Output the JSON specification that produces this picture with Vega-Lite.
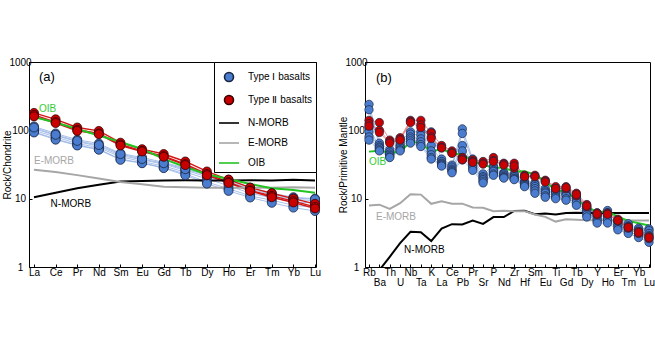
{
  "$schema": "https://vega.github.io/schema/vega-lite/v6.json",
  "padding": {"left": 2, "top": 56, "right": 5, "bottom": 5},
  "spacing": 16,
  "datasets": {
    "chon": [
      {"e":"La","s":"A1","g":"Type Ⅰ basalts","v":114},{"e":"Ce","s":"A1","g":"Type Ⅰ basalts","v":90},{"e":"Pr","s":"A1","g":"Type Ⅰ basalts","v":73},{"e":"Nd","s":"A1","g":"Type Ⅰ basalts","v":64},{"e":"Sm","s":"A1","g":"Type Ⅰ basalts","v":46},{"e":"Eu","s":"A1","g":"Type Ⅰ basalts","v":40},{"e":"Gd","s":"A1","g":"Type Ⅰ basalts","v":34},{"e":"Tb","s":"A1","g":"Type Ⅰ basalts","v":28},{"e":"Dy","s":"A1","g":"Type Ⅰ basalts","v":23},{"e":"Ho","s":"A1","g":"Type Ⅰ basalts","v":19},{"e":"Er","s":"A1","g":"Type Ⅰ basalts","v":14.5},{"e":"Tm","s":"A1","g":"Type Ⅰ basalts","v":12},{"e":"Yb","s":"A1","g":"Type Ⅰ basalts","v":10.5},{"e":"Lu","s":"A1","g":"Type Ⅰ basalts","v":10},
      {"e":"La","s":"A2","g":"Type Ⅰ basalts","v":106},{"e":"Ce","s":"A2","g":"Type Ⅰ basalts","v":84},{"e":"Pr","s":"A2","g":"Type Ⅰ basalts","v":68},{"e":"Nd","s":"A2","g":"Type Ⅰ basalts","v":59},{"e":"Sm","s":"A2","g":"Type Ⅰ basalts","v":43},{"e":"Eu","s":"A2","g":"Type Ⅰ basalts","v":37},{"e":"Gd","s":"A2","g":"Type Ⅰ basalts","v":32},{"e":"Tb","s":"A2","g":"Type Ⅰ basalts","v":26},{"e":"Dy","s":"A2","g":"Type Ⅰ basalts","v":21},{"e":"Ho","s":"A2","g":"Type Ⅰ basalts","v":17},{"e":"Er","s":"A2","g":"Type Ⅰ basalts","v":13},{"e":"Tm","s":"A2","g":"Type Ⅰ basalts","v":11},{"e":"Yb","s":"A2","g":"Type Ⅰ basalts","v":9.8},{"e":"Lu","s":"A2","g":"Type Ⅰ basalts","v":9.3},
      {"e":"La","s":"A3","g":"Type Ⅰ basalts","v":100},{"e":"Ce","s":"A3","g":"Type Ⅰ basalts","v":80},{"e":"Pr","s":"A3","g":"Type Ⅰ basalts","v":64},{"e":"Nd","s":"A3","g":"Type Ⅰ basalts","v":56},{"e":"Sm","s":"A3","g":"Type Ⅰ basalts","v":41},{"e":"Eu","s":"A3","g":"Type Ⅰ basalts","v":35},{"e":"Gd","s":"A3","g":"Type Ⅰ basalts","v":30},{"e":"Tb","s":"A3","g":"Type Ⅰ basalts","v":24.5},{"e":"Dy","s":"A3","g":"Type Ⅰ basalts","v":19.5},{"e":"Ho","s":"A3","g":"Type Ⅰ basalts","v":15.5},{"e":"Er","s":"A3","g":"Type Ⅰ basalts","v":12},{"e":"Tm","s":"A3","g":"Type Ⅰ basalts","v":10.3},{"e":"Yb","s":"A3","g":"Type Ⅰ basalts","v":9},{"e":"Lu","s":"A3","g":"Type Ⅰ basalts","v":8.6},
      {"e":"La","s":"A4","g":"Type Ⅰ basalts","v":95},{"e":"Ce","s":"A4","g":"Type Ⅰ basalts","v":75},{"e":"Pr","s":"A4","g":"Type Ⅰ basalts","v":61},{"e":"Nd","s":"A4","g":"Type Ⅰ basalts","v":53},{"e":"Sm","s":"A4","g":"Type Ⅰ basalts","v":38},{"e":"Eu","s":"A4","g":"Type Ⅰ basalts","v":33.5},{"e":"Gd","s":"A4","g":"Type Ⅰ basalts","v":28.5},{"e":"Tb","s":"A4","g":"Type Ⅰ basalts","v":23},{"e":"Dy","s":"A4","g":"Type Ⅰ basalts","v":17.5},{"e":"Ho","s":"A4","g":"Type Ⅰ basalts","v":14},{"e":"Er","s":"A4","g":"Type Ⅰ basalts","v":11},{"e":"Tm","s":"A4","g":"Type Ⅰ basalts","v":9.5},{"e":"Yb","s":"A4","g":"Type Ⅰ basalts","v":8},{"e":"Lu","s":"A4","g":"Type Ⅰ basalts","v":7.4},
      {"e":"La","s":"A5","g":"Type Ⅰ basalts","v":93},{"e":"Ce","s":"A5","g":"Type Ⅰ basalts","v":73},{"e":"Pr","s":"A5","g":"Type Ⅰ basalts","v":60},{"e":"Nd","s":"A5","g":"Type Ⅰ basalts","v":52},{"e":"Sm","s":"A5","g":"Type Ⅰ basalts","v":37},{"e":"Eu","s":"A5","g":"Type Ⅰ basalts","v":33},{"e":"Gd","s":"A5","g":"Type Ⅰ basalts","v":28},{"e":"Tb","s":"A5","g":"Type Ⅰ basalts","v":22},{"e":"Dy","s":"A5","g":"Type Ⅰ basalts","v":16.6},{"e":"Ho","s":"A5","g":"Type Ⅰ basalts","v":13},{"e":"Er","s":"A5","g":"Type Ⅰ basalts","v":10.4},{"e":"Tm","s":"A5","g":"Type Ⅰ basalts","v":8.7},{"e":"Yb","s":"A5","g":"Type Ⅰ basalts","v":7.4},{"e":"Lu","s":"A5","g":"Type Ⅰ basalts","v":6.6},
      {"e":"La","s":"A6","g":"Type Ⅰ basalts","v":110},{"e":"Ce","s":"A6","g":"Type Ⅰ basalts","v":86},{"e":"Pr","s":"A6","g":"Type Ⅰ basalts","v":70},{"e":"Nd","s":"A6","g":"Type Ⅰ basalts","v":61},{"e":"Sm","s":"A6","g":"Type Ⅰ basalts","v":45},{"e":"Eu","s":"A6","g":"Type Ⅰ basalts","v":38},{"e":"Gd","s":"A6","g":"Type Ⅰ basalts","v":33},{"e":"Tb","s":"A6","g":"Type Ⅰ basalts","v":27},{"e":"Dy","s":"A6","g":"Type Ⅰ basalts","v":22},{"e":"Ho","s":"A6","g":"Type Ⅰ basalts","v":18},{"e":"Er","s":"A6","g":"Type Ⅰ basalts","v":13.8},{"e":"Tm","s":"A6","g":"Type Ⅰ basalts","v":11.5},{"e":"Yb","s":"A6","g":"Type Ⅰ basalts","v":10.2},{"e":"Lu","s":"A6","g":"Type Ⅰ basalts","v":9.8},
      {"e":"La","s":"B1","g":"Type Ⅱ basalts","v":180},{"e":"Ce","s":"B1","g":"Type Ⅱ basalts","v":145},{"e":"Pr","s":"B1","g":"Type Ⅱ basalts","v":110},{"e":"Nd","s":"B1","g":"Type Ⅱ basalts","v":98},{"e":"Sm","s":"B1","g":"Type Ⅱ basalts","v":66},{"e":"Eu","s":"B1","g":"Type Ⅱ basalts","v":53},{"e":"Gd","s":"B1","g":"Type Ⅱ basalts","v":45},{"e":"Tb","s":"B1","g":"Type Ⅱ basalts","v":35},{"e":"Dy","s":"B1","g":"Type Ⅱ basalts","v":25},{"e":"Ho","s":"B1","g":"Type Ⅱ basalts","v":19},{"e":"Er","s":"B1","g":"Type Ⅱ basalts","v":14.5},{"e":"Tm","s":"B1","g":"Type Ⅱ basalts","v":12},{"e":"Yb","s":"B1","g":"Type Ⅱ basalts","v":10},{"e":"Lu","s":"B1","g":"Type Ⅱ basalts","v":8.4},
      {"e":"La","s":"B2","g":"Type Ⅱ basalts","v":168},{"e":"Ce","s":"B2","g":"Type Ⅱ basalts","v":132},{"e":"Pr","s":"B2","g":"Type Ⅱ basalts","v":102},{"e":"Nd","s":"B2","g":"Type Ⅱ basalts","v":90},{"e":"Sm","s":"B2","g":"Type Ⅱ basalts","v":62},{"e":"Eu","s":"B2","g":"Type Ⅱ basalts","v":50},{"e":"Gd","s":"B2","g":"Type Ⅱ basalts","v":42},{"e":"Tb","s":"B2","g":"Type Ⅱ basalts","v":32},{"e":"Dy","s":"B2","g":"Type Ⅱ basalts","v":23},{"e":"Ho","s":"B2","g":"Type Ⅱ basalts","v":17.5},{"e":"Er","s":"B2","g":"Type Ⅱ basalts","v":13.2},{"e":"Tm","s":"B2","g":"Type Ⅱ basalts","v":11},{"e":"Yb","s":"B2","g":"Type Ⅱ basalts","v":9.2},{"e":"Lu","s":"B2","g":"Type Ⅱ basalts","v":7.6},
      {"e":"La","s":"B3","g":"Type Ⅱ basalts","v":160},{"e":"Ce","s":"B3","g":"Type Ⅱ basalts","v":128},{"e":"Pr","s":"B3","g":"Type Ⅱ basalts","v":98},{"e":"Nd","s":"B3","g":"Type Ⅱ basalts","v":88},{"e":"Sm","s":"B3","g":"Type Ⅱ basalts","v":60},{"e":"Eu","s":"B3","g":"Type Ⅱ basalts","v":49},{"e":"Gd","s":"B3","g":"Type Ⅱ basalts","v":41},{"e":"Tb","s":"B3","g":"Type Ⅱ basalts","v":31},{"e":"Dy","s":"B3","g":"Type Ⅱ basalts","v":22},{"e":"Ho","s":"B3","g":"Type Ⅱ basalts","v":17},{"e":"Er","s":"B3","g":"Type Ⅱ basalts","v":13},{"e":"Tm","s":"B3","g":"Type Ⅱ basalts","v":10.5},{"e":"Yb","s":"B3","g":"Type Ⅱ basalts","v":8.8},{"e":"Lu","s":"B3","g":"Type Ⅱ basalts","v":7.2},
      {"e":"La","s":"N","g":"N-MORB","v":10.5},{"e":"Ce","s":"N","g":"N-MORB","v":12.2},{"e":"Pr","s":"N","g":"N-MORB","v":14.2},{"e":"Nd","s":"N","g":"N-MORB","v":16},{"e":"Sm","s":"N","g":"N-MORB","v":17.8},{"e":"Eu","s":"N","g":"N-MORB","v":18.1},{"e":"Gd","s":"N","g":"N-MORB","v":18.5},{"e":"Tb","s":"N","g":"N-MORB","v":18.6},{"e":"Dy","s":"N","g":"N-MORB","v":18.5},{"e":"Ho","s":"N","g":"N-MORB","v":18.5},{"e":"Er","s":"N","g":"N-MORB","v":18.6},{"e":"Tm","s":"N","g":"N-MORB","v":18.5},{"e":"Yb","s":"N","g":"N-MORB","v":18.9},{"e":"Lu","s":"N","g":"N-MORB","v":18.5},
      {"e":"La","s":"E","g":"E-MORB","v":26.6},{"e":"Ce","s":"E","g":"E-MORB","v":24.5},{"e":"Pr","s":"E","g":"E-MORB","v":22.1},{"e":"Nd","s":"E","g":"E-MORB","v":19.7},{"e":"Sm","s":"E","g":"E-MORB","v":17.6},{"e":"Eu","s":"E","g":"E-MORB","v":16.2},{"e":"Gd","s":"E","g":"E-MORB","v":14.9},{"e":"Tb","s":"E","g":"E-MORB","v":14.7},{"e":"Dy","s":"E","g":"E-MORB","v":14.4},{"e":"Ho","s":"E","g":"E-MORB","v":14.5},{"e":"Er","s":"E","g":"E-MORB","v":14.4},{"e":"Tm","s":"E","g":"E-MORB","v":14.4},{"e":"Yb","s":"E","g":"E-MORB","v":14.7},{"e":"Lu","s":"E","g":"E-MORB","v":14.4},
      {"e":"La","s":"O","g":"OIB","v":156},{"e":"Ce","s":"O","g":"OIB","v":130.5},{"e":"Pr","s":"O","g":"OIB","v":104.5},{"e":"Nd","s":"O","g":"OIB","v":84.2},{"e":"Sm","s":"O","g":"OIB","v":67.6},{"e":"Eu","s":"O","g":"OIB","v":53.3},{"e":"Gd","s":"O","g":"OIB","v":38.3},{"e":"Tb","s":"O","g":"OIB","v":29.1},{"e":"Dy","s":"O","g":"OIB","v":22.8},{"e":"Ho","s":"O","g":"OIB","v":19.4},{"e":"Er","s":"O","g":"OIB","v":16.4},{"e":"Tm","s":"O","g":"OIB","v":14.2},{"e":"Yb","s":"O","g":"OIB","v":13.4},{"e":"Lu","s":"O","g":"OIB","v":12.2}
    ],
    "pm": [
      {"e":"Rb","s":"C1","g":"Type Ⅰ basalts","v":240},{"e":"Ba","s":"C1","g":"Type Ⅰ basalts","v":65},{"e":"Th","s":"C1","g":"Type Ⅰ basalts","v":52},{"e":"U","s":"C1","g":"Type Ⅰ basalts","v":68},{"e":"Nb","s":"C1","g":"Type Ⅰ basalts","v":95},{"e":"Ta","s":"C1","g":"Type Ⅰ basalts","v":95},{"e":"K","s":"C1","g":"Type Ⅰ basalts","v":95},{"e":"La","s":"C1","g":"Type Ⅰ basalts","v":38},{"e":"Ce","s":"C1","g":"Type Ⅰ basalts","v":31},{"e":"Pb","s":"C1","g":"Type Ⅰ basalts","v":105},{"e":"Pr","s":"C1","g":"Type Ⅰ basalts","v":38},{"e":"Sr","s":"C1","g":"Type Ⅰ basalts","v":23},{"e":"P","s":"C1","g":"Type Ⅰ basalts","v":30},{"e":"Nd","s":"C1","g":"Type Ⅰ basalts","v":24},{"e":"Zr","s":"C1","g":"Type Ⅰ basalts","v":23},{"e":"Hf","s":"C1","g":"Type Ⅰ basalts","v":18},{"e":"Sm","s":"C1","g":"Type Ⅰ basalts","v":17},{"e":"Eu","s":"C1","g":"Type Ⅰ basalts","v":14},{"e":"Ti","s":"C1","g":"Type Ⅰ basalts","v":13},{"e":"Gd","s":"C1","g":"Type Ⅰ basalts","v":13},{"e":"Tb","s":"C1","g":"Type Ⅰ basalts","v":11},{"e":"Dy","s":"C1","g":"Type Ⅰ basalts","v":7.4},{"e":"Y","s":"C1","g":"Type Ⅰ basalts","v":6.2},{"e":"Ho","s":"C1","g":"Type Ⅰ basalts","v":6.7},{"e":"Er","s":"C1","g":"Type Ⅰ basalts","v":4.8},{"e":"Tm","s":"C1","g":"Type Ⅰ basalts","v":4.3},{"e":"Yb","s":"C1","g":"Type Ⅰ basalts","v":3.7},{"e":"Lu","s":"C1","g":"Type Ⅰ basalts","v":3.6},
      {"e":"Rb","s":"C2","g":"Type Ⅰ basalts","v":200},{"e":"Ba","s":"C2","g":"Type Ⅰ basalts","v":60},{"e":"Th","s":"C2","g":"Type Ⅰ basalts","v":48},{"e":"U","s":"C2","g":"Type Ⅰ basalts","v":62},{"e":"Nb","s":"C2","g":"Type Ⅰ basalts","v":88},{"e":"Ta","s":"C2","g":"Type Ⅰ basalts","v":85},{"e":"K","s":"C2","g":"Type Ⅰ basalts","v":60},{"e":"La","s":"C2","g":"Type Ⅰ basalts","v":35},{"e":"Ce","s":"C2","g":"Type Ⅰ basalts","v":29},{"e":"Pb","s":"C2","g":"Type Ⅰ basalts","v":90},{"e":"Pr","s":"C2","g":"Type Ⅰ basalts","v":35},{"e":"Sr","s":"C2","g":"Type Ⅰ basalts","v":21},{"e":"P","s":"C2","g":"Type Ⅰ basalts","v":28},{"e":"Nd","s":"C2","g":"Type Ⅰ basalts","v":23},{"e":"Zr","s":"C2","g":"Type Ⅰ basalts","v":22},{"e":"Hf","s":"C2","g":"Type Ⅰ basalts","v":17},{"e":"Sm","s":"C2","g":"Type Ⅰ basalts","v":16},{"e":"Eu","s":"C2","g":"Type Ⅰ basalts","v":13},{"e":"Ti","s":"C2","g":"Type Ⅰ basalts","v":12.5},{"e":"Gd","s":"C2","g":"Type Ⅰ basalts","v":12},{"e":"Tb","s":"C2","g":"Type Ⅰ basalts","v":10.5},{"e":"Dy","s":"C2","g":"Type Ⅰ basalts","v":7},{"e":"Y","s":"C2","g":"Type Ⅰ basalts","v":5.8},{"e":"Ho","s":"C2","g":"Type Ⅰ basalts","v":6.2},{"e":"Er","s":"C2","g":"Type Ⅰ basalts","v":4.5},{"e":"Tm","s":"C2","g":"Type Ⅰ basalts","v":4},{"e":"Yb","s":"C2","g":"Type Ⅰ basalts","v":3.5},{"e":"Lu","s":"C2","g":"Type Ⅰ basalts","v":3.4},
      {"e":"Rb","s":"C3","g":"Type Ⅰ basalts","v":110},{"e":"Ba","s":"C3","g":"Type Ⅰ basalts","v":57},{"e":"Th","s":"C3","g":"Type Ⅰ basalts","v":45},{"e":"U","s":"C3","g":"Type Ⅰ basalts","v":58},{"e":"Nb","s":"C3","g":"Type Ⅰ basalts","v":80},{"e":"Ta","s":"C3","g":"Type Ⅰ basalts","v":75},{"e":"K","s":"C3","g":"Type Ⅰ basalts","v":50},{"e":"La","s":"C3","g":"Type Ⅰ basalts","v":33},{"e":"Ce","s":"C3","g":"Type Ⅰ basalts","v":27},{"e":"Pb","s":"C3","g":"Type Ⅰ basalts","v":60},{"e":"Pr","s":"C3","g":"Type Ⅰ basalts","v":32},{"e":"Sr","s":"C3","g":"Type Ⅰ basalts","v":20},{"e":"P","s":"C3","g":"Type Ⅰ basalts","v":26},{"e":"Nd","s":"C3","g":"Type Ⅰ basalts","v":22},{"e":"Zr","s":"C3","g":"Type Ⅰ basalts","v":21},{"e":"Hf","s":"C3","g":"Type Ⅰ basalts","v":16.5},{"e":"Sm","s":"C3","g":"Type Ⅰ basalts","v":15},{"e":"Eu","s":"C3","g":"Type Ⅰ basalts","v":12.5},{"e":"Ti","s":"C3","g":"Type Ⅰ basalts","v":12},{"e":"Gd","s":"C3","g":"Type Ⅰ basalts","v":11.5},{"e":"Tb","s":"C3","g":"Type Ⅰ basalts","v":10},{"e":"Dy","s":"C3","g":"Type Ⅰ basalts","v":6.6},{"e":"Y","s":"C3","g":"Type Ⅰ basalts","v":5.4},{"e":"Ho","s":"C3","g":"Type Ⅰ basalts","v":5.7},{"e":"Er","s":"C3","g":"Type Ⅰ basalts","v":4.2},{"e":"Tm","s":"C3","g":"Type Ⅰ basalts","v":3.8},{"e":"Yb","s":"C3","g":"Type Ⅰ basalts","v":3.3},{"e":"Lu","s":"C3","g":"Type Ⅰ basalts","v":3.1},
      {"e":"Rb","s":"C4","g":"Type Ⅰ basalts","v":95},{"e":"Ba","s":"C4","g":"Type Ⅰ basalts","v":55},{"e":"Th","s":"C4","g":"Type Ⅰ basalts","v":43},{"e":"U","s":"C4","g":"Type Ⅰ basalts","v":55},{"e":"Nb","s":"C4","g":"Type Ⅰ basalts","v":75},{"e":"Ta","s":"C4","g":"Type Ⅰ basalts","v":68},{"e":"K","s":"C4","g":"Type Ⅰ basalts","v":44},{"e":"La","s":"C4","g":"Type Ⅰ basalts","v":32},{"e":"Ce","s":"C4","g":"Type Ⅰ basalts","v":26},{"e":"Pb","s":"C4","g":"Type Ⅰ basalts","v":50},{"e":"Pr","s":"C4","g":"Type Ⅰ basalts","v":30},{"e":"Sr","s":"C4","g":"Type Ⅰ basalts","v":19},{"e":"P","s":"C4","g":"Type Ⅰ basalts","v":25},{"e":"Nd","s":"C4","g":"Type Ⅰ basalts","v":21},{"e":"Zr","s":"C4","g":"Type Ⅰ basalts","v":20},{"e":"Hf","s":"C4","g":"Type Ⅰ basalts","v":16},{"e":"Sm","s":"C4","g":"Type Ⅰ basalts","v":14},{"e":"Eu","s":"C4","g":"Type Ⅰ basalts","v":12},{"e":"Ti","s":"C4","g":"Type Ⅰ basalts","v":11},{"e":"Gd","s":"C4","g":"Type Ⅰ basalts","v":11},{"e":"Tb","s":"C4","g":"Type Ⅰ basalts","v":9.5},{"e":"Dy","s":"C4","g":"Type Ⅰ basalts","v":6.2},{"e":"Y","s":"C4","g":"Type Ⅰ basalts","v":5},{"e":"Ho","s":"C4","g":"Type Ⅰ basalts","v":5.2},{"e":"Er","s":"C4","g":"Type Ⅰ basalts","v":4},{"e":"Tm","s":"C4","g":"Type Ⅰ basalts","v":3.6},{"e":"Yb","s":"C4","g":"Type Ⅰ basalts","v":3.1},{"e":"Lu","s":"C4","g":"Type Ⅰ basalts","v":2.9},
      {"e":"Rb","s":"C5","g":"Type Ⅰ basalts","v":80},{"e":"Ba","s":"C5","g":"Type Ⅰ basalts","v":52},{"e":"Th","s":"C5","g":"Type Ⅰ basalts","v":41},{"e":"U","s":"C5","g":"Type Ⅰ basalts","v":52},{"e":"Nb","s":"C5","g":"Type Ⅰ basalts","v":70},{"e":"Ta","s":"C5","g":"Type Ⅰ basalts","v":62},{"e":"K","s":"C5","g":"Type Ⅰ basalts","v":40},{"e":"La","s":"C5","g":"Type Ⅰ basalts","v":31},{"e":"Ce","s":"C5","g":"Type Ⅰ basalts","v":25},{"e":"Pb","s":"C5","g":"Type Ⅰ basalts","v":40},{"e":"Pr","s":"C5","g":"Type Ⅰ basalts","v":28},{"e":"Sr","s":"C5","g":"Type Ⅰ basalts","v":18},{"e":"P","s":"C5","g":"Type Ⅰ basalts","v":23},{"e":"Nd","s":"C5","g":"Type Ⅰ basalts","v":20.5},{"e":"Zr","s":"C5","g":"Type Ⅰ basalts","v":19.5},{"e":"Hf","s":"C5","g":"Type Ⅰ basalts","v":15.5},{"e":"Sm","s":"C5","g":"Type Ⅰ basalts","v":13},{"e":"Eu","s":"C5","g":"Type Ⅰ basalts","v":11},{"e":"Ti","s":"C5","g":"Type Ⅰ basalts","v":10.5},{"e":"Gd","s":"C5","g":"Type Ⅰ basalts","v":10},{"e":"Tb","s":"C5","g":"Type Ⅰ basalts","v":8.8},{"e":"Dy","s":"C5","g":"Type Ⅰ basalts","v":5.8},{"e":"Y","s":"C5","g":"Type Ⅰ basalts","v":4.7},{"e":"Ho","s":"C5","g":"Type Ⅰ basalts","v":4.8},{"e":"Er","s":"C5","g":"Type Ⅰ basalts","v":3.7},{"e":"Tm","s":"C5","g":"Type Ⅰ basalts","v":3.3},{"e":"Yb","s":"C5","g":"Type Ⅰ basalts","v":2.9},{"e":"Lu","s":"C5","g":"Type Ⅰ basalts","v":2.6},
      {"e":"Rb","s":"C6","g":"Type Ⅰ basalts","v":72},{"e":"Ba","s":"C6","g":"Type Ⅰ basalts","v":50},{"e":"Th","s":"C6","g":"Type Ⅰ basalts","v":40},{"e":"U","s":"C6","g":"Type Ⅰ basalts","v":50},{"e":"Nb","s":"C6","g":"Type Ⅰ basalts","v":65},{"e":"Ta","s":"C6","g":"Type Ⅰ basalts","v":58},{"e":"K","s":"C6","g":"Type Ⅰ basalts","v":38},{"e":"La","s":"C6","g":"Type Ⅰ basalts","v":30},{"e":"Ce","s":"C6","g":"Type Ⅰ basalts","v":24},{"e":"Pb","s":"C6","g":"Type Ⅰ basalts","v":37},{"e":"Pr","s":"C6","g":"Type Ⅰ basalts","v":26},{"e":"Sr","s":"C6","g":"Type Ⅰ basalts","v":17},{"e":"P","s":"C6","g":"Type Ⅰ basalts","v":22},{"e":"Nd","s":"C6","g":"Type Ⅰ basalts","v":20},{"e":"Zr","s":"C6","g":"Type Ⅰ basalts","v":19},{"e":"Hf","s":"C6","g":"Type Ⅰ basalts","v":15},{"e":"Sm","s":"C6","g":"Type Ⅰ basalts","v":12},{"e":"Eu","s":"C6","g":"Type Ⅰ basalts","v":10.5},{"e":"Ti","s":"C6","g":"Type Ⅰ basalts","v":10},{"e":"Gd","s":"C6","g":"Type Ⅰ basalts","v":9.5},{"e":"Tb","s":"C6","g":"Type Ⅰ basalts","v":8},{"e":"Dy","s":"C6","g":"Type Ⅰ basalts","v":5.4},{"e":"Y","s":"C6","g":"Type Ⅰ basalts","v":4.4},{"e":"Ho","s":"C6","g":"Type Ⅰ basalts","v":4.4},{"e":"Er","s":"C6","g":"Type Ⅰ basalts","v":3.5},{"e":"Tm","s":"C6","g":"Type Ⅰ basalts","v":3.1},{"e":"Yb","s":"C6","g":"Type Ⅰ basalts","v":2.7},{"e":"Lu","s":"C6","g":"Type Ⅰ basalts","v":2.3},
      {"e":"Rb","s":"D1","g":"Type Ⅱ basalts","v":140},{"e":"Ba","s":"D1","g":"Type Ⅱ basalts","v":130},{"e":"Th","s":"D1","g":"Type Ⅱ basalts","v":72},{"e":"U","s":"D1","g":"Type Ⅱ basalts","v":78},{"e":"Nb","s":"D1","g":"Type Ⅱ basalts","v":140},{"e":"Ta","s":"D1","g":"Type Ⅱ basalts","v":140},{"e":"K","s":"D1","g":"Type Ⅱ basalts","v":92},{"e":"La","s":"D1","g":"Type Ⅱ basalts","v":60},{"e":"Ce","s":"D1","g":"Type Ⅱ basalts","v":50},{"e":"Pb","s":"D1","g":"Type Ⅱ basalts","v":40},{"e":"Pr","s":"D1","g":"Type Ⅱ basalts","v":37},{"e":"Sr","s":"D1","g":"Type Ⅱ basalts","v":35},{"e":"P","s":"D1","g":"Type Ⅱ basalts","v":40},{"e":"Nd","s":"D1","g":"Type Ⅱ basalts","v":33},{"e":"Zr","s":"D1","g":"Type Ⅱ basalts","v":33},{"e":"Hf","s":"D1","g":"Type Ⅱ basalts","v":22},{"e":"Sm","s":"D1","g":"Type Ⅱ basalts","v":22},{"e":"Eu","s":"D1","g":"Type Ⅱ basalts","v":18.6},{"e":"Ti","s":"D1","g":"Type Ⅱ basalts","v":15},{"e":"Gd","s":"D1","g":"Type Ⅱ basalts","v":15},{"e":"Tb","s":"D1","g":"Type Ⅱ basalts","v":12},{"e":"Dy","s":"D1","g":"Type Ⅱ basalts","v":8.2},{"e":"Y","s":"D1","g":"Type Ⅱ basalts","v":6.2},{"e":"Ho","s":"D1","g":"Type Ⅱ basalts","v":6.2},{"e":"Er","s":"D1","g":"Type Ⅱ basalts","v":5},{"e":"Tm","s":"D1","g":"Type Ⅱ basalts","v":3.9},{"e":"Yb","s":"D1","g":"Type Ⅱ basalts","v":3.3},{"e":"Lu","s":"D1","g":"Type Ⅱ basalts","v":2.8},
      {"e":"Rb","s":"D2","g":"Type Ⅱ basalts","v":125},{"e":"Ba","s":"D2","g":"Type Ⅱ basalts","v":100},{"e":"Th","s":"D2","g":"Type Ⅱ basalts","v":68},{"e":"U","s":"D2","g":"Type Ⅱ basalts","v":74},{"e":"Nb","s":"D2","g":"Type Ⅱ basalts","v":135},{"e":"Ta","s":"D2","g":"Type Ⅱ basalts","v":120},{"e":"K","s":"D2","g":"Type Ⅱ basalts","v":80},{"e":"La","s":"D2","g":"Type Ⅱ basalts","v":56},{"e":"Ce","s":"D2","g":"Type Ⅱ basalts","v":47},{"e":"Pb","s":"D2","g":"Type Ⅱ basalts","v":38},{"e":"Pr","s":"D2","g":"Type Ⅱ basalts","v":35},{"e":"Sr","s":"D2","g":"Type Ⅱ basalts","v":33},{"e":"P","s":"D2","g":"Type Ⅱ basalts","v":36},{"e":"Nd","s":"D2","g":"Type Ⅱ basalts","v":32},{"e":"Zr","s":"D2","g":"Type Ⅱ basalts","v":28},{"e":"Hf","s":"D2","g":"Type Ⅱ basalts","v":21},{"e":"Sm","s":"D2","g":"Type Ⅱ basalts","v":21},{"e":"Eu","s":"D2","g":"Type Ⅱ basalts","v":18},{"e":"Ti","s":"D2","g":"Type Ⅱ basalts","v":14},{"e":"Gd","s":"D2","g":"Type Ⅱ basalts","v":14},{"e":"Tb","s":"D2","g":"Type Ⅱ basalts","v":11},{"e":"Dy","s":"D2","g":"Type Ⅱ basalts","v":7.6},{"e":"Y","s":"D2","g":"Type Ⅱ basalts","v":5.8},{"e":"Ho","s":"D2","g":"Type Ⅱ basalts","v":6},{"e":"Er","s":"D2","g":"Type Ⅱ basalts","v":4.7},{"e":"Tm","s":"D2","g":"Type Ⅱ basalts","v":3.7},{"e":"Yb","s":"D2","g":"Type Ⅱ basalts","v":3.1},{"e":"Lu","s":"D2","g":"Type Ⅱ basalts","v":2.6},
      {"e":"Rb","s":"D3","g":"Type Ⅱ basalts","v":115},{"e":"Ba","s":"D3","g":"Type Ⅱ basalts","v":93},{"e":"Th","s":"D3","g":"Type Ⅱ basalts","v":65},{"e":"U","s":"D3","g":"Type Ⅱ basalts","v":72},{"e":"Nb","s":"D3","g":"Type Ⅱ basalts","v":130},{"e":"Ta","s":"D3","g":"Type Ⅱ basalts","v":110},{"e":"K","s":"D3","g":"Type Ⅱ basalts","v":76},{"e":"La","s":"D3","g":"Type Ⅱ basalts","v":55},{"e":"Ce","s":"D3","g":"Type Ⅱ basalts","v":46},{"e":"Pb","s":"D3","g":"Type Ⅱ basalts","v":37},{"e":"Pr","s":"D3","g":"Type Ⅱ basalts","v":34},{"e":"Sr","s":"D3","g":"Type Ⅱ basalts","v":32},{"e":"P","s":"D3","g":"Type Ⅱ basalts","v":35},{"e":"Nd","s":"D3","g":"Type Ⅱ basalts","v":31},{"e":"Zr","s":"D3","g":"Type Ⅱ basalts","v":30},{"e":"Hf","s":"D3","g":"Type Ⅱ basalts","v":21},{"e":"Sm","s":"D3","g":"Type Ⅱ basalts","v":21},{"e":"Eu","s":"D3","g":"Type Ⅱ basalts","v":17.5},{"e":"Ti","s":"D3","g":"Type Ⅱ basalts","v":14},{"e":"Gd","s":"D3","g":"Type Ⅱ basalts","v":14.5},{"e":"Tb","s":"D3","g":"Type Ⅱ basalts","v":11.5},{"e":"Dy","s":"D3","g":"Type Ⅱ basalts","v":7.8},{"e":"Y","s":"D3","g":"Type Ⅱ basalts","v":6},{"e":"Ho","s":"D3","g":"Type Ⅱ basalts","v":5.9},{"e":"Er","s":"D3","g":"Type Ⅱ basalts","v":4.8},{"e":"Tm","s":"D3","g":"Type Ⅱ basalts","v":3.8},{"e":"Yb","s":"D3","g":"Type Ⅱ basalts","v":3.2},{"e":"Lu","s":"D3","g":"Type Ⅱ basalts","v":2.7},
      {"e":"Rb","s":"N","g":"N-MORB","v":0.88},{"e":"Ba","s":"N","g":"N-MORB","v":0.9},{"e":"Th","s":"N","g":"N-MORB","v":1.41},{"e":"U","s":"N","g":"N-MORB","v":2.24},{"e":"Nb","s":"N","g":"N-MORB","v":3.27},{"e":"Ta","s":"N","g":"N-MORB","v":3.22},{"e":"K","s":"N","g":"N-MORB","v":2.4},{"e":"La","s":"N","g":"N-MORB","v":3.64},{"e":"Ce","s":"N","g":"N-MORB","v":4.23},{"e":"Pb","s":"N","g":"N-MORB","v":4.2},{"e":"Pr","s":"N","g":"N-MORB","v":4.78},{"e":"Sr","s":"N","g":"N-MORB","v":4.27},{"e":"P","s":"N","g":"N-MORB","v":5.37},{"e":"Nd","s":"N","g":"N-MORB","v":5.39},{"e":"Zr","s":"N","g":"N-MORB","v":6.6},{"e":"Hf","s":"N","g":"N-MORB","v":6.63},{"e":"Sm","s":"N","g":"N-MORB","v":5.92},{"e":"Eu","s":"N","g":"N-MORB","v":6.07},{"e":"Ti","s":"N","g":"N-MORB","v":5.85},{"e":"Gd","s":"N","g":"N-MORB","v":6.17},{"e":"Tb","s":"N","g":"N-MORB","v":6.2},{"e":"Dy","s":"N","g":"N-MORB","v":6.17},{"e":"Y","s":"N","g":"N-MORB","v":6.15},{"e":"Ho","s":"N","g":"N-MORB","v":6.16},{"e":"Er","s":"N","g":"N-MORB","v":6.19},{"e":"Tm","s":"N","g":"N-MORB","v":6.16},{"e":"Yb","s":"N","g":"N-MORB","v":6.19},{"e":"Lu","s":"N","g":"N-MORB","v":6.15},
      {"e":"Rb","s":"E","g":"E-MORB","v":7.94},{"e":"Ba","s":"E","g":"E-MORB","v":8.16},{"e":"Th","s":"E","g":"E-MORB","v":7.06},{"e":"U","s":"E","g":"E-MORB","v":8.57},{"e":"Nb","s":"E","g":"E-MORB","v":11.64},{"e":"Ta","s":"E","g":"E-MORB","v":11.46},{"e":"K","s":"E","g":"E-MORB","v":8.4},{"e":"La","s":"E","g":"E-MORB","v":9.17},{"e":"Ce","s":"E","g":"E-MORB","v":8.45},{"e":"Pb","s":"E","g":"E-MORB","v":8.45},{"e":"Pr","s":"E","g":"E-MORB","v":7.43},{"e":"Sr","s":"E","g":"E-MORB","v":7.35},{"e":"P","s":"E","g":"E-MORB","v":6.53},{"e":"Nd","s":"E","g":"E-MORB","v":6.65},{"e":"Zr","s":"E","g":"E-MORB","v":6.52},{"e":"Hf","s":"E","g":"E-MORB","v":6.57},{"e":"Sm","s":"E","g":"E-MORB","v":5.86},{"e":"Eu","s":"E","g":"E-MORB","v":5.42},{"e":"Ti","s":"E","g":"E-MORB","v":4.62},{"e":"Gd","s":"E","g":"E-MORB","v":4.98},{"e":"Tb","s":"E","g":"E-MORB","v":4.91},{"e":"Dy","s":"E","g":"E-MORB","v":4.82},{"e":"Y","s":"E","g":"E-MORB","v":4.84},{"e":"Ho","s":"E","g":"E-MORB","v":4.82},{"e":"Er","s":"E","g":"E-MORB","v":4.81},{"e":"Tm","s":"E","g":"E-MORB","v":4.81},{"e":"Yb","s":"E","g":"E-MORB","v":4.81},{"e":"Lu","s":"E","g":"E-MORB","v":4.78},
      {"e":"Rb","s":"O","g":"OIB","v":48.8},{"e":"Ba","s":"O","g":"OIB","v":50.1},{"e":"Th","s":"O","g":"OIB","v":47.1},{"e":"U","s":"O","g":"OIB","v":48.6},{"e":"Nb","s":"O","g":"OIB","v":67.3},{"e":"Ta","s":"O","g":"OIB","v":65.9},{"e":"K","s":"O","g":"OIB","v":48},{"e":"La","s":"O","g":"OIB","v":53.9},{"e":"Ce","s":"O","g":"OIB","v":45.1},{"e":"Pb","s":"O","g":"OIB","v":45.1},{"e":"Pr","s":"O","g":"OIB","v":35.1},{"e":"Sr","s":"O","g":"OIB","v":31.3},{"e":"P","s":"O","g":"OIB","v":28.4},{"e":"Nd","s":"O","g":"OIB","v":28.4},{"e":"Zr","s":"O","g":"OIB","v":25},{"e":"Hf","s":"O","g":"OIB","v":25.2},{"e":"Sm","s":"O","g":"OIB","v":22.5},{"e":"Eu","s":"O","g":"OIB","v":17.9},{"e":"Ti","s":"O","g":"OIB","v":13.2},{"e":"Gd","s":"O","g":"OIB","v":12.8},{"e":"Tb","s":"O","g":"OIB","v":9.72},{"e":"Dy","s":"O","g":"OIB","v":7.6},{"e":"Y","s":"O","g":"OIB","v":6.37},{"e":"Ho","s":"O","g":"OIB","v":6.46},{"e":"Er","s":"O","g":"OIB","v":5.46},{"e":"Tm","s":"O","g":"OIB","v":4.73},{"e":"Yb","s":"O","g":"OIB","v":4.38},{"e":"Lu","s":"O","g":"OIB","v":4.05}
    ]
  },
  "hconcat": [
    {
      "width": 287,
      "height": 205,
      "data": {"name": "chon"},
      "resolve": {"scale": {"color": "independent", "shape": "independent", "stroke": "independent"}, "legend": {"color": "independent", "shape": "independent", "stroke": "independent"}},
      "encoding": {
        "x": {"field": "e", "type": "nominal", "scale": {"type": "point", "padding": 0, "domain": ["La","Ce","Pr","Nd","Sm","Eu","Gd","Tb","Dy","Ho","Er","Tm","Yb","Lu"], "range": [5, 286]}, "axis": {"title": null, "labelAngle": 0, "labelPadding": 3, "labelOverlap": false}},
        "y": {"field": "v", "type": "quantitative", "scale": {"type": "log", "domain": [1, 1000], "nice": false}, "axis": {"title": "Rock/Chondrite", "values": [1, 10, 100, 1000], "format": "d", "labelAlign": "center", "labelPadding": 12, "titlePadding": -4}}
      },
      "layer": [
        {"transform": [{"filter": "datum.g == 'Type Ⅰ basalts'"}], "mark": {"type": "line", "color": "#7ea2df", "strokeWidth": 0.8, "opacity": 0.85, "clip": true}, "encoding": {"detail": {"field": "s"}}},
        {"transform": [{"filter": "datum.g == 'Type Ⅱ basalts'"}], "mark": {"type": "line", "color": "#d41515", "strokeWidth": 1.4, "clip": true}, "encoding": {"detail": {"field": "s"}}},
        {"transform": [{"filter": "datum.s == 'N' || datum.s == 'E' || datum.s == 'O'"}], "mark": {"type": "line", "strokeWidth": 2, "clip": true},
         "encoding": {"color": {"field": "g", "type": "nominal", "scale": {"domain": ["N-MORB","E-MORB","OIB"], "range": ["#000000","#a6a6a6","#22c422"]}, "legend": null}}},
        {"transform": [{"filter": "datum.g == 'Type Ⅰ basalts' || datum.g == 'Type Ⅱ basalts'"}], "mark": {"type": "point", "filled": true, "size": 400, "opacity": 1, "strokeWidth": 0.8},
         "encoding": {
           "color": {"field": "g", "type": "nominal", "scale": {"domain": ["Type Ⅰ basalts","Type Ⅱ basalts","N-MORB","E-MORB","OIB"], "range": ["#4a7dd0","#c80000","#000000","#a6a6a6","#22c422"]},
             "legend": {"title": null, "orient": "top-right", "offset": 0, "padding": 4, "strokeColor": "black", "fillColor": "white", "labelFontSize": 10, "labelFont": "Liberation Sans", "rowPadding": 4, "symbolSize": 400, "labelOffset": 8, "symbolStrokeWidth": 1.6}},
           "shape": {"field": "g", "type": "nominal", "scale": {"domain": ["Type Ⅰ basalts","Type Ⅱ basalts","N-MORB","E-MORB","OIB"], "range": ["M0.45,0A0.45,0.45,0,1,1,-0.45,0A0.45,0.45,0,1,1,0.45,0Z","M0.45,0A0.45,0.45,0,1,1,-0.45,0A0.45,0.45,0,1,1,0.45,0Z","stroke","stroke","stroke"]},
             "legend": {"title": null, "orient": "top-right", "offset": 0, "padding": 4, "strokeColor": "black", "fillColor": "white", "labelFontSize": 10, "labelFont": "Liberation Sans", "rowPadding": 4, "symbolSize": 400, "labelOffset": 8, "symbolStrokeWidth": 1.6}},
           "stroke": {"field": "g", "type": "nominal", "scale": {"domain": ["Type Ⅰ basalts","Type Ⅱ basalts","N-MORB","E-MORB","OIB"], "range": ["#1a2540","#3a0000","#000000","#a6a6a6","#22c422"]},
             "legend": {"title": null, "orient": "top-right", "offset": 0, "padding": 4, "strokeColor": "black", "fillColor": "white", "labelFontSize": 10, "labelFont": "Liberation Sans", "rowPadding": 4, "symbolSize": 400, "labelOffset": 8, "symbolStrokeWidth": 1.6}}
         }},
        {"data": {"values": [{"e": "La", "v": 600, "t": "(a)"}]}, "mark": {"type": "text", "align": "left", "baseline": "middle", "dx": 5, "fontSize": 13, "color": "black"}, "encoding": {"text": {"field": "t"}}},
        {"data": {"values": [{"e": "La", "v": 204, "t": "OIB"}]}, "mark": {"type": "text", "align": "left", "baseline": "middle", "dx": 5, "fontSize": 10, "color": "#33cc33"}, "encoding": {"text": {"field": "t"}}},
        {"data": {"values": [{"e": "La", "v": 36, "t": "E-MORB"}]}, "mark": {"type": "text", "align": "left", "baseline": "middle", "dx": 0, "fontSize": 10, "color": "#a6a6a6"}, "encoding": {"text": {"field": "t"}}},
        {"data": {"values": [{"e": "Ce", "v": 8.4, "t": "N-MORB"}]}, "mark": {"type": "text", "align": "left", "baseline": "middle", "dx": -5, "fontSize": 10, "color": "black"}, "encoding": {"text": {"field": "t"}}}
      ]
    },
    {
      "width": 285,
      "height": 205,
      "data": {"name": "pm"},
      "encoding": {
        "x": {"field": "e", "type": "nominal", "scale": {"type": "point", "padding": 0, "domain": ["Rb","Ba","Th","U","Nb","Ta","K","La","Ce","Pb","Pr","Sr","P","Nd","Zr","Hf","Sm","Eu","Ti","Gd","Tb","Dy","Y","Ho","Er","Tm","Yb","Lu"], "range": [4, 284]},
          "axis": {"title": null, "labelAngle": 0, "labelPadding": 3, "labelOverlap": false, "labelLineHeight": 10, "labelBaseline": "top",
            "labelExpr": "indexof(['Ba','U','Ta','La','Pb','Sr','Nd','Hf','Eu','Gd','Dy','Ho','Tm','Lu'], datum.value) >= 0 ? ['', datum.value] : datum.value"}},
        "y": {"field": "v", "type": "quantitative", "scale": {"type": "log", "domain": [1, 1000], "nice": false}, "axis": {"title": "Rock/Primitive Mantle", "values": [1, 10, 100, 1000], "format": "d", "labelAlign": "center", "labelPadding": 12, "titlePadding": -4}}
      },
      "layer": [
        {"transform": [{"filter": "datum.g == 'Type Ⅰ basalts'"}], "mark": {"type": "line", "color": "#7ea2df", "strokeWidth": 0.8, "opacity": 0.85, "clip": true}, "encoding": {"detail": {"field": "s"}}},
        {"transform": [{"filter": "datum.g == 'Type Ⅱ basalts'"}], "mark": {"type": "line", "color": "#e06a6a", "strokeWidth": 0.8, "opacity": 0.9, "clip": true}, "encoding": {"detail": {"field": "s"}}},
        {"transform": [{"filter": "datum.s == 'N' || datum.s == 'E' || datum.s == 'O'"}], "mark": {"type": "line", "strokeWidth": 2, "clip": true},
         "encoding": {"color": {"field": "g", "type": "nominal", "scale": {"domain": ["Type Ⅰ basalts","Type Ⅱ basalts","N-MORB","E-MORB","OIB"], "range": ["#4a7dd0","#c80000","#000000","#a6a6a6","#22c422"]}, "legend": null}}},
        {"transform": [{"filter": "datum.g == 'Type Ⅰ basalts' || datum.g == 'Type Ⅱ basalts'"}], "mark": {"type": "point", "filled": true, "size": 70, "opacity": 1, "stroke": "#1a2540", "strokeWidth": 0.7},
         "encoding": {"color": {"field": "g", "type": "nominal", "scale": {"domain": ["Type Ⅰ basalts","Type Ⅱ basalts","N-MORB","E-MORB","OIB"], "range": ["#4a7dd0","#c80000","#000000","#a6a6a6","#22c422"]}, "legend": null}}},
        {"data": {"values": [{"e": "Rb", "v": 592, "t": "(b)"}]}, "mark": {"type": "text", "align": "left", "baseline": "middle", "dx": 7, "fontSize": 13, "color": "black"}, "encoding": {"text": {"field": "t"}}},
        {"data": {"values": [{"e": "Rb", "v": 34, "t": "OIB"}]}, "mark": {"type": "text", "align": "left", "baseline": "middle", "dx": 0, "fontSize": 10, "color": "#33cc33"}, "encoding": {"text": {"field": "t"}}},
        {"data": {"values": [{"e": "Rb", "v": 5.4, "t": "E-MORB"}]}, "mark": {"type": "text", "align": "left", "baseline": "middle", "dx": 7, "fontSize": 10, "color": "#a6a6a6"}, "encoding": {"text": {"field": "t"}}},
        {"data": {"values": [{"e": "U", "v": 1.77, "t": "N-MORB"}]}, "mark": {"type": "text", "align": "left", "baseline": "middle", "dx": 4, "fontSize": 10, "color": "black"}, "encoding": {"text": {"field": "t"}}}
      ]
    }
  ],
  "resolve": {"scale": {"x": "independent", "y": "independent", "color": "independent"}, "legend": {"color": "independent"}},
  "config": {
    "font": "Liberation Sans",
    "view": {"stroke": "black", "strokeWidth": 1},
    "axis": {"grid": false, "domainColor": "black", "tickColor": "black", "labelColor": "black", "titleColor": "black", "labelFontSize": 10, "titleFontSize": 10, "titleFontWeight": "normal", "tickSize": -3, "labelFont": "Liberation Sans", "titleFont": "Liberation Sans"}
  }
}
